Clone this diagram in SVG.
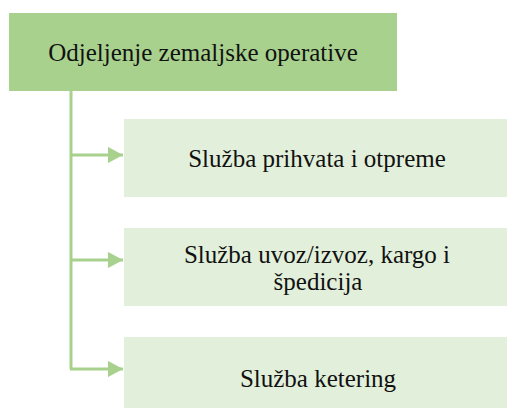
<svg xmlns="http://www.w3.org/2000/svg" width="507" height="408" viewBox="0 0 507 408">
<defs>
<style>
.top{fill:#A9D18E}
.child{fill:#E2EFDA}
.lbl{font-family:"Liberation Serif","DejaVu Serif",serif;font-size:25px;fill:#111;text-anchor:middle}
.conn{stroke:#A9D18E;stroke-width:3;fill:none}
</style>
<marker id="ah" markerWidth="5" markerHeight="5.4" refX="5" refY="2.7" orient="auto" markerUnits="strokeWidth">
<path d="M0,0 L5,2.7 L0,5.4 Z" fill="#A9D18E"/>
</marker>
</defs>
<g id="n0">
<rect class="top" x="9" y="13" width="388" height="78"/>
<text class="lbl" x="203" y="61">Odjeljenje zemaljske operative</text>
</g>
<g id="n1">
<rect class="child" x="124" y="119" width="383" height="78"/>
<text class="lbl" x="317" y="167">Služba prihvata i otpreme</text>
</g>
<g id="n2">
<rect class="child" x="124" y="228" width="383" height="78"/>
<text class="lbl" x="317" y="263">Služba uvoz/izvoz, kargo i</text>
<text class="lbl" x="318" y="290">špedicija</text>
</g>
<g id="n3">
<rect class="child" x="124" y="337" width="383" height="78"/>
<text class="lbl" x="318" y="387">Služba ketering</text>
</g>
<g id="connectors">
<path class="conn" d="M71,91 V369"/>
<path class="conn" d="M70,155 H123" marker-end="url(#ah)"/>
<path class="conn" d="M70,260 H123" marker-end="url(#ah)"/>
<path class="conn" d="M70,369 H123" marker-end="url(#ah)"/>
</g>
</svg>
